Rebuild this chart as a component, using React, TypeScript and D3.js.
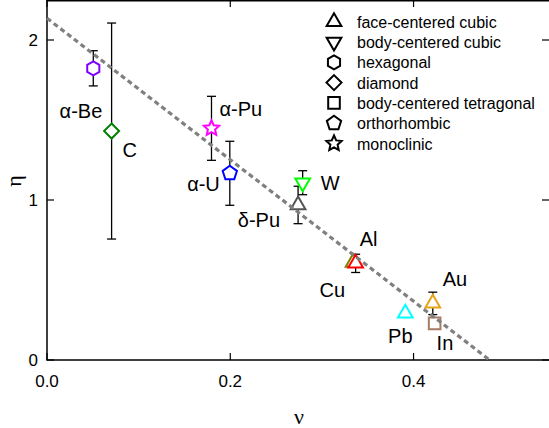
import React, { useEffect, useRef } from "react";
import * as d3 from "d3";

// materials plotted, with Poisson ratio (nu) and eta
const materials = ["α-Be", "C", "α-Pu", "α-U", "W", "δ-Pu", "Cu", "Al", "Au", "Pb", "In"];
const nuValues = [0.0505, 0.0705, 0.1795, 0.1995, 0.279, 0.274, 0.334, 0.3368, 0.421, 0.391, 0.423];
const etaValues = [1.823, 1.431, 1.448, 1.167, 1.108, 0.969, 0.61, 0.604, 0.354, 0.292, 0.229];
const etaErrors = [0.11, 0.675, 0.2, 0.2, 0.075, 0.117, 0, 0.057, 0.07, 0, 0];
const structures = ["hex", "diamond", "mono", "ortho", "bcc", "fcc", "fcc", "fcc", "fcc", "fcc", "bct"];
const markerColors = ["#8000ff", "#008000", "#ff00ff", "#0000ff", "#00ff00", "#555555", "#808000", "#ff0000", "#e6a417", "#00ffff", "#a87a64"];

// legend entries
const legendKeys = ["fcc", "bcc", "hex", "diamond", "bct", "ortho", "mono"];
const legendLabels = ["face-centered cubic", "body-centered cubic", "hexagonal", "diamond", "body-centered tetragonal", "orthorhombic", "monoclinic"];

// dashed guide line
const fitNu = [0, 0.483];
const fitEta = [2.136, 0];

const xTicks = [0, 0.2, 0.4];
const xTickLabels = ["0.0", "0.2", "0.4"];
const yTicks = [0, 1, 2];
const yTickLabels = ["0", "1", "2"];

// label placement relative to the marker: [anchor, dx, dy]
const labelPlace: Record<string, [string, number, number]> = {
  "α-Be": ["end", 9, 50],
  "C": ["start", 11, 26],
  "α-Pu": ["start", 8, -12],
  "α-U": ["end", -10, 18],
  "W": ["start", 18, 7],
  "δ-Pu": ["end", -18, 22],
  "Cu": ["end", -8, 35],
  "Al": ["start", 4, -17],
  "Au": ["start", 10, -17],
  "Pb": ["middle", -5, 30],
  "In": ["start", 2, 27],
};

function polygon(n: number, r: number, rot: number) {
  const pts: [number, number][] = [];
  for (let i = 0; i < n; i++) {
    const a = rot + (i * 2 * Math.PI) / n;
    pts.push([r * Math.sin(a), -r * Math.cos(a)]);
  }
  return "M" + pts.map((p) => p.join(",")).join("L") + "Z";
}

function star(ro: number, ri: number) {
  const pts: [number, number][] = [];
  for (let i = 0; i < 10; i++) {
    const a = (i * Math.PI) / 5;
    const r = i % 2 === 0 ? ro : ri;
    pts.push([r * Math.sin(a), -r * Math.cos(a)]);
  }
  return "M" + pts.map((p) => p.join(",")).join("L") + "Z";
}

function shapePath(kind: string) {
  switch (kind) {
    case "fcc": return polygon(3, 8.5, 0);
    case "bcc": return polygon(3, 8.5, Math.PI);
    case "hex": return polygon(6, 7, 0);
    case "diamond": return polygon(4, 7.5, 0);
    case "bct": return polygon(4, 8.2, Math.PI / 4);
    case "ortho": return polygon(5, 7.5, 0);
    case "mono": return star(8, 3.8);
    default: return polygon(4, 6, 0);
  }
}

export default function App() {
  const ref = useRef<SVGSVGElement>(null);

  useEffect(() => {
    const svg = d3.select(ref.current);
    svg.selectAll("*").remove();

    const x = d3.scaleLinear().domain([0, 0.55]).range([47, 551]);
    const y = d3.scaleLinear().domain([0, 2.25]).range([360, 0]);
    const sans = "'Liberation Sans', Arial, sans-serif";

    // frame
    const g = svg.append("g");
    g.append("rect")
      .attr("x", x(0)).attr("y", 0.75)
      .attr("width", x(0.55) - x(0)).attr("height", y(0) - 0.75)
      .attr("fill", "none").attr("stroke", "#000").attr("stroke-width", 1.5);

    // inward ticks on all sides
    xTicks.forEach((t) => {
      g.append("line").attr("x1", x(t)).attr("x2", x(t)).attr("y1", y(0)).attr("y2", y(0) - 7).attr("stroke", "#000").attr("stroke-width", 1.2);
      g.append("line").attr("x1", x(t)).attr("x2", x(t)).attr("y1", 0).attr("y2", 7).attr("stroke", "#000").attr("stroke-width", 1.2);
    });
    yTicks.forEach((t) => {
      g.append("line").attr("x1", x(0)).attr("x2", x(0) + 7).attr("y1", y(t)).attr("y2", y(t)).attr("stroke", "#000").attr("stroke-width", 1.2);
      g.append("line").attr("x1", 549).attr("x2", 542).attr("y1", y(t)).attr("y2", y(t)).attr("stroke", "#000").attr("stroke-width", 1.2);
    });

    g.selectAll(".xl").data(xTicks).enter().append("text")
      .attr("x", (d) => x(d)).attr("y", 387)
      .attr("text-anchor", "middle").style("font-family", sans).style("font-size", "17px")
      .text((d, i) => xTickLabels[i]);
    g.selectAll(".yl").data(yTicks).enter().append("text")
      .attr("x", 38).attr("y", (d) => y(d) + 6)
      .attr("text-anchor", "end").style("font-family", sans).style("font-size", "17px")
      .text((d, i) => yTickLabels[i]);

    // axis titles
    g.append("text").attr("x", 299).attr("y", 424)
      .attr("text-anchor", "middle").style("font-family", "'Liberation Serif', serif").style("font-size", "22px")
      .text("ν");
    g.append("text").attr("transform", "translate(21,181) rotate(-90)")
      .attr("text-anchor", "middle").style("font-family", "'Liberation Serif', serif").style("font-size", "22px")
      .text("η");

    const idx = d3.range(materials.length);

    // error bars
    const eb = g.append("g").attr("stroke", "#000").attr("stroke-width", 1.3);
    idx.filter((i) => etaErrors[i] > 0).forEach((i) => {
      const cx = x(nuValues[i]);
      const top = y(etaValues[i] + etaErrors[i]);
      const bot = y(etaValues[i] - etaErrors[i]);
      eb.append("line").attr("x1", cx).attr("x2", cx).attr("y1", top).attr("y2", bot);
      eb.append("line").attr("x1", cx - 4.5).attr("x2", cx + 4.5).attr("y1", top).attr("y2", top);
      eb.append("line").attr("x1", cx - 4.5).attr("x2", cx + 4.5).attr("y1", bot).attr("y2", bot);
    });

    // markers
    g.selectAll(".pt").data(idx).enter().append("path")
      .attr("d", (i) => shapePath(structures[i]))
      .attr("transform", (i) => `translate(${x(nuValues[i])},${y(etaValues[i])})`)
      .attr("fill", "#fff").attr("stroke", (i) => markerColors[i]).attr("stroke-width", 2);

    // dashed guide line on top
    const line = d3.line<number>().x((i) => x(fitNu[i])).y((i) => y(fitEta[i]));
    g.append("path").attr("d", line([0, 1]))
      .attr("fill", "none").attr("stroke", "#808080").attr("stroke-width", 3.2)
      .attr("stroke-dasharray", "5,3.5");

    // point labels
    g.selectAll(".lab").data(idx).enter().append("text")
      .attr("x", (i) => x(nuValues[i]) + labelPlace[materials[i]][1])
      .attr("y", (i) => y(etaValues[i]) + labelPlace[materials[i]][2])
      .attr("text-anchor", (i) => labelPlace[materials[i]][0])
      .style("font-family", sans).style("font-size", "20px")
      .text((i) => materials[i]);

    // legend
    const lg = g.append("g");
    legendKeys.forEach((k, i) => {
      const ly = 21.7 + i * 20.3;
      lg.append("path").attr("d", shapePath(k))
        .attr("transform", `translate(334,${ly})`)
        .attr("fill", "#fff").attr("stroke", "#000").attr("stroke-width", 2);
      lg.append("text").attr("x", 357).attr("y", ly + 6)
        .style("font-family", sans).style("font-size", "16px")
        .text(legendLabels[i]);
    });
  }, []);

  return (
    <svg ref={ref} width={549} height={428}
      style={{ position: "absolute", left: 0, top: 0, background: "#fff" }} />
  );
}
